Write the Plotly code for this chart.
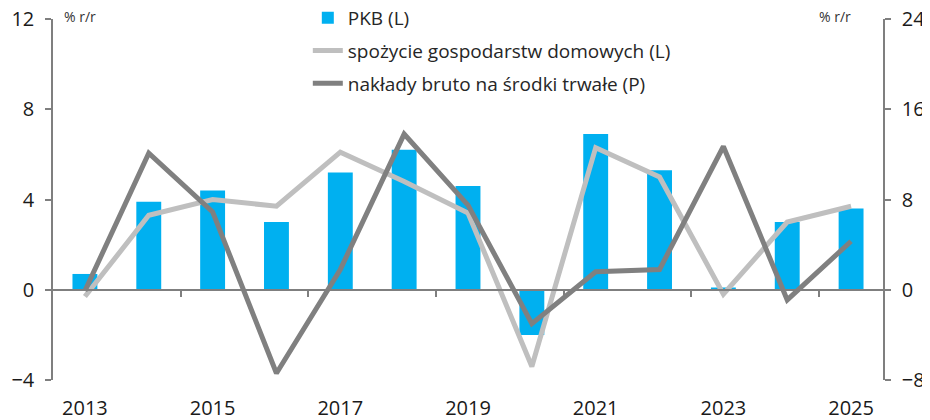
import plotly.graph_objects as go

years = list(range(2013, 2026))
pkb = [0.7, 3.9, 4.4, 3.0, 5.2, 6.2, 4.6, -2.0, 6.9, 5.3, 0.1, 3.0, 3.6]
spozycie = [-0.3, 3.3, 4.0, 3.7, 6.1, 4.8, 3.4, -3.4, 6.3, 5.0, -0.2, 3.0, 3.7]
naklady = [-0.1, 12.1, 6.9, -7.4, 1.8, 13.8, 7.5, -3.0, 1.6, 1.8, 12.7, -0.9, 4.3]
xlabels = [2013, 2015, 2017, 2019, 2021, 2023, 2025]
left_ticks = [-4, 0, 4, 8, 12]
right_ticks = [-8, 0, 8, 16, 24]

FONT = "Open Sans"
AX = "#7f7f7f"

W, H = 922, 412
ML, MR, MT, MB = 45, 47, 11, 40
PH = H - MT - MB  # plot height in px

fig = go.Figure()
fig.add_trace(go.Bar(x=years, y=pkb, name="PKB (L)", marker_color="#00B0F0",
                     marker_line_width=0, legendgroup="a"))
fig.add_trace(go.Scatter(x=years, y=spozycie, name="spożycie gospodarstw domowych (L)",
                         mode="lines", line=dict(color="#BFBFBF", width=5), legendgroup="b"))
fig.add_trace(go.Scatter(x=years, y=naklady, name="nakłady bruto na środki trwałe (P)",
                         mode="lines", line=dict(color="#808080", width=5), yaxis="y2",
                         legendgroup="c"))
# helper axis carrying the zero-line tick marks
fig.add_trace(go.Scatter(x=years, y=pkb, xaxis="x2", mode="markers",
                         marker=dict(opacity=0), showlegend=False, hoverinfo="skip"))

rng = [2012.5, 2025.5]
fig.update_layout(
    width=W, height=H,
    margin=dict(l=ML, r=MR, t=MT, b=MB, autoexpand=False),
    plot_bgcolor="white", paper_bgcolor="white",
    font=dict(family=FONT, color="#1a1a1a"),
    bargap=0.61,
    showlegend=True,
    legend=dict(x=0.307, y=1 + 20 / PH, xanchor="left", yanchor="top",
                font=dict(size=19, color="#262626"), bgcolor="rgba(0,0,0,0)",
                tracegroupgap=5, traceorder="grouped"),
    xaxis=dict(range=rng, tickvals=xlabels, ticks="outside", ticklen=10,
               tickcolor="rgba(0,0,0,0)", showline=False, showgrid=False,
               zeroline=False, tickfont=dict(size=20), ticklabeloverflow="allow"),
    xaxis2=dict(range=rng, overlaying="x", anchor="free", position=0.25,
                showline=True, linecolor=AX, linewidth=1.5,
                tickmode="array", tickvals=[2014.5, 2016.5, 2018.5, 2020.5, 2022.5, 2024.5],
                ticks="outside", ticklen=6, tickcolor=AX, tickwidth=1.5,
                showticklabels=False, showgrid=False, zeroline=False),
    yaxis=dict(range=[-4, 12], tickvals=left_ticks, showgrid=False,
               showline=True, linecolor=AX, linewidth=1.5,
               ticks="outside", ticklen=6, tickcolor=AX, tickwidth=1.5,
               zeroline=True, zerolinecolor=AX, zerolinewidth=1.5,
               tickfont=dict(size=20), ticklabelstandoff=7, ticklabeloverflow="allow"),
    yaxis2=dict(range=[-8, 24], tickvals=right_ticks, overlaying="y", side="right",
                showgrid=False, showline=True, linecolor=AX, linewidth=1.5,
                ticks="outside", ticklen=6, tickcolor=AX, tickwidth=1.5,
                zeroline=False, tickfont=dict(size=20), ticklabelstandoff=7,
                ticklabeloverflow="allow"),
    annotations=[
        dict(text="% r/r", xref="paper", yref="paper", x=0.011, y=1 + 3 / PH,
             xanchor="left", yanchor="middle", showarrow=False,
             font=dict(size=14, color="#333333")),
        dict(text="% r/r", xref="paper", yref="paper", x=0.964, y=1 + 3 / PH,
             xanchor="right", yanchor="middle", showarrow=False,
             font=dict(size=14, color="#333333")),
    ],
)

fig.write_html("out.html")
